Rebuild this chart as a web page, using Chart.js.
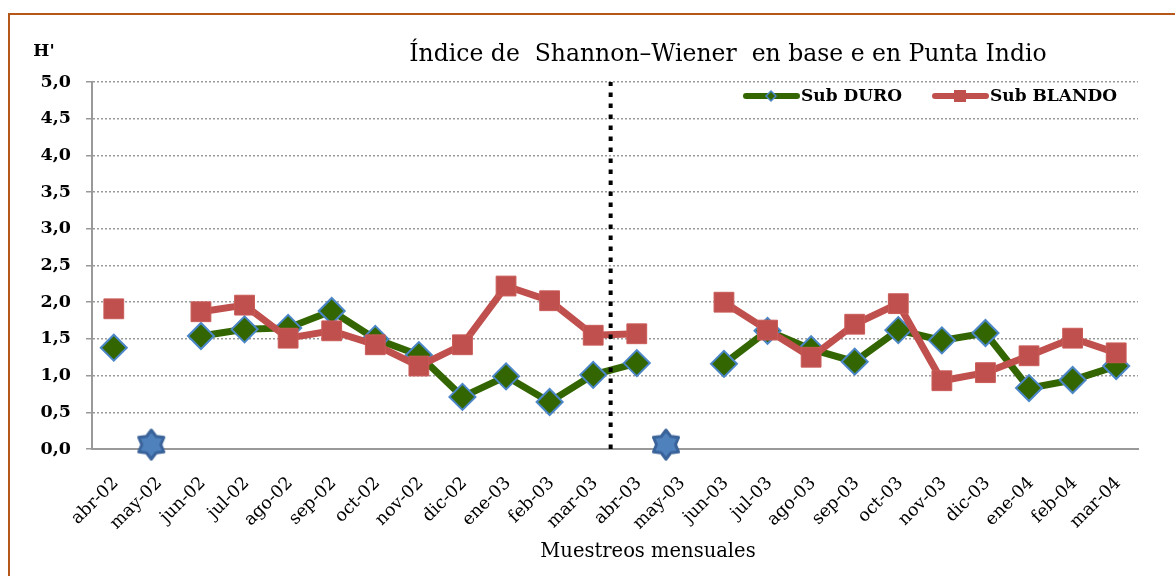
<!DOCTYPE html>
<html>
<head>
<meta charset="utf-8">
<script src="https://cdn.jsdelivr.net/npm/chart.js@4.4.0/dist/chart.umd.min.js"></script>
<style>
  body { margin: 0; background: #fff; }
  .frame {
    position: absolute; left: 8px; top: 13px;
    width: 1167px; height: 563px;
    border-top: 2px solid #b5561a; border-left: 2px solid #b5561a;
  }
  canvas { display: block; }
</style>
</head>
<body>
<div class="frame"><canvas id="chart" width="1165" height="561"></canvas></div>
<script>
const months = ["abr-02", "may-02", "jun-02", "jul-02", "ago-02", "sep-02", "oct-02", "nov-02",
  "dic-02", "ene-03", "feb-03", "mar-03", "abr-03", "may-03", "jun-03", "jul-03", "ago-03",
  "sep-03", "oct-03", "nov-03", "dic-03", "ene-04", "feb-04", "mar-04"];

const subDuro = [1.38, null, 1.54, 1.63, 1.65, 1.88, 1.50, 1.28, 0.71, 0.99, 0.64, 1.01,
  1.17, null, 1.16, 1.61, 1.36, 1.19, 1.62, 1.48, 1.58, 0.83, 0.94, 1.13];

const subBlando = [1.91, null, 1.87, 1.96, 1.51, 1.61, 1.42, 1.13, 1.42, 2.22, 2.02, 1.55,
  1.57, null, 2.00, 1.62, 1.25, 1.70, 1.98, 0.93, 1.04, 1.27, 1.51, 1.31];

// months without samples, marked with a star (position in month units)
const missingX = [0.86, 12.67];
const missingY = [0.06, 0.06];

// dotted separator between the two sampling years
const dividerX = 11.4;
const dividerY = [0, 5];

const serif = "'DejaVu Serif', 'Liberation Serif', serif";

const makeStar = () => {
  const c = document.createElement("canvas");
  c.width = 32; c.height = 34;
  const g = c.getContext("2d");
  const cx = 16, cy = 17, R = 14.5, r = 9.5;
  g.beginPath();
  for (let i = 0; i < 12; i++) {
    const a = -Math.PI / 2 + i * Math.PI / 6;
    const rad = i % 2 === 0 ? R : r;
    g.lineTo(cx + rad * Math.cos(a), cy + rad * Math.sin(a));
  }
  g.closePath();
  g.lineJoin = "round";
  g.fillStyle = "#4f81bd";
  g.fill();
  g.lineWidth = 3;
  g.strokeStyle = "#3a639a";
  g.stroke();
  return c;
};

const textPlugin = {
  id: "texts",
  afterDraw(chart) {
    const ctx = chart.ctx;
    ctx.save();
    ctx.fillStyle = "#000";
    ctx.textBaseline = "middle";

    ctx.font = "23.5px " + serif;
    ctx.textAlign = "center";
    ctx.fillText("Índice de  Shannon–Wiener  en base e en Punta Indio", 718, 40);

    ctx.font = "bold 17px " + serif;
    ctx.fillText("H'", 34, 37);

    ctx.font = "19.5px " + serif;
    ctx.fillText("Muestreos mensuales", 638, 537);

    // legend
    const ly = 81;
    const items = [
      { ds: chart.data.datasets[1], x: 733, kind: "diamond" },
      { ds: chart.data.datasets[0], x: 922, kind: "square" },
    ];
    items.forEach((it) => {
      ctx.strokeStyle = it.ds.borderColor;
      ctx.lineWidth = 6;
      ctx.lineCap = "round";
      ctx.beginPath();
      ctx.moveTo(it.x + 3, ly);
      ctx.lineTo(it.x + 54, ly);
      ctx.stroke();
      const mx = it.x + 28;
      ctx.fillStyle = it.ds.pointBackgroundColor;
      if (it.kind === "diamond") {
        ctx.beginPath();
        ctx.moveTo(mx, ly - 5);
        ctx.lineTo(mx + 5, ly);
        ctx.lineTo(mx, ly + 5);
        ctx.lineTo(mx - 5, ly);
        ctx.closePath();
        ctx.fill();
        ctx.lineWidth = 1.5;
        ctx.strokeStyle = it.ds.pointBorderColor;
        ctx.stroke();
      } else {
        ctx.fillRect(mx - 6, ly - 6, 12, 12);
      }
      ctx.fillStyle = "#000";
      ctx.font = "bold 17px " + serif;
      ctx.textAlign = "left";
      ctx.fillText(it.ds.label, it.x + 58, ly + 1);
    });
    ctx.restore();
  },
};

new Chart(document.getElementById("chart"), {
  type: "line",
  data: {
    labels: months,
    datasets: [
      {
        label: "Sub BLANDO",
        data: subBlando,
        order: 1,
        borderColor: "#c0504d",
        borderWidth: 7,
        pointStyle: "rect",
        pointRadius: 14,
        pointBackgroundColor: "#c0504d",
        pointBorderColor: "#c95b58",
        pointBorderWidth: 1,
        spanGaps: false,
        clip: false,
      },
      {
        label: "Sub DURO",
        data: subDuro,
        order: 2,
        borderColor: "#336600",
        borderWidth: 7,
        pointStyle: "rectRot",
        pointRadius: 13,
        pointBackgroundColor: "#336600",
        pointBorderColor: "#4a86c8",
        pointBorderWidth: 2,
        spanGaps: false,
        clip: false,
      },
      {
        label: "sin muestreo",
        data: missingX.map((x, i) => ({ x: x, y: missingY[i] })),
        xAxisID: "xl",
        order: 3,
        showLine: false,
        pointStyle: makeStar(),
        clip: false,
      },
      {
        label: "division",
        data: dividerY.map((y) => ({ x: dividerX, y: y })),
        xAxisID: "xl",
        order: 0,
        borderColor: "#000",
        borderWidth: 4,
        borderDash: [4.5, 6.5],
        pointRadius: 0,
      },
    ],
  },
  options: {
    animation: false,
    responsive: false,
    devicePixelRatio: 1,
    layout: { padding: { top: 67, right: 37, left: 0, bottom: 0 } },
    plugins: { legend: { display: false }, tooltip: { enabled: false } },
    scales: {
      x: {
        type: "category",
        offset: true,
        grid: { display: false },
        border: { color: "#999", width: 2 },
        ticks: {
          minRotation: 45,
          maxRotation: 45,
          autoSkip: false,
          color: "#000",
          padding: 16,
          labelOffset: 2,
          font: { family: serif, size: 17.5 },
        },
        afterFit: (scale) => { scale.height = 127; },
      },
      xl: {
        type: "linear",
        display: false,
        min: -0.5,
        max: 23.5,
      },
      y: {
        min: 0,
        max: 5,
        border: { color: "#999", width: 2, dash: [2, 2] },
        grid: {
          color: "#999",
          lineWidth: 1.5,
          tickBorderDash: [],
          tickColor: "#999",
          tickLength: 6,
        },
        ticks: {
          stepSize: 0.5,
          color: "#000",
          padding: 15,
          font: { family: serif, size: 17.5, weight: "bold" },
          callback: (v) => v.toFixed(1).replace(".", ","),
        },
        afterFit: (scale) => { scale.width = 82; },
      },
    },
  },
  plugins: [textPlugin],
});
</script>
</body>
</html>
